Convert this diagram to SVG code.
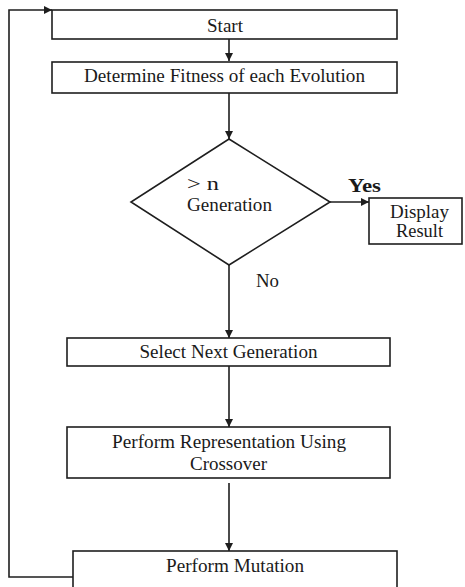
<svg xmlns="http://www.w3.org/2000/svg" width="465" height="587" viewBox="0 0 465 587">
  <style>
    .box { fill: #fff; stroke: #1e1e1e; stroke-width: 1.6; }
    .edge { fill: none; stroke: #1e1e1e; stroke-width: 1.6; }
    .lbl { font-family: "Liberation Serif", "Times New Roman", Times, serif; font-size: 18px; fill: #1a1a1a; }
    .mid { text-anchor: middle; }
    .bold { font-weight: bold; }
  </style>
  <defs>
    <marker id="arrow" viewBox="0 0 10 10" refX="10" refY="5" markerWidth="9" markerHeight="8" markerUnits="userSpaceOnUse" orient="auto">
      <path d="M0,0 L10,5 L0,10 Z" fill="#1e1e1e"/>
    </marker>
  </defs>
  <rect width="465" height="587" fill="#fff"/>

  <g id="connectors">
    <path class="edge" d="M73,577 H9 V10 H52" marker-end="url(#arrow)"/>
    <path class="edge" d="M229,39 V61" marker-end="url(#arrow)"/>
    <path class="edge" d="M229,93 V139" marker-end="url(#arrow)"/>
    <path class="edge" d="M330,202 H369" marker-end="url(#arrow)"/>
    <path class="edge" d="M229,265 V338" marker-end="url(#arrow)"/>
    <path class="edge" d="M229,366 V427" marker-end="url(#arrow)"/>
    <path class="edge" d="M229,483 V551" marker-end="url(#arrow)"/>
    <text class="lbl bold" x="348" y="192" textLength="33" lengthAdjust="spacingAndGlyphs">Yes</text>
    <text class="lbl" x="256" y="287" textLength="23" lengthAdjust="spacingAndGlyphs">No</text>
  </g>

  <g id="start">
    <rect class="box" x="52" y="10" width="345" height="29"/>
    <text class="lbl mid" x="225" y="31.5" textLength="36" lengthAdjust="spacingAndGlyphs">Start</text>
  </g>

  <g id="fitness">
    <rect class="box" x="52" y="62" width="345" height="31"/>
    <text class="lbl mid" x="224.5" y="82" textLength="281" lengthAdjust="spacingAndGlyphs">Determine Fitness of each Evolution</text>
  </g>

  <g id="decision">
    <polygon class="box" points="229,139 330,202 229,265 131,202"/>
    <text class="lbl" x="187" y="190" textLength="32" lengthAdjust="spacingAndGlyphs">&gt; n</text>
    <text class="lbl" x="187" y="211" textLength="85" lengthAdjust="spacingAndGlyphs">Generation</text>
  </g>

  <g id="display">
    <rect class="box" x="369" y="198" width="93" height="46"/>
    <text class="lbl mid" x="419.5" y="218" textLength="59" lengthAdjust="spacingAndGlyphs">Display</text>
    <text class="lbl mid" x="419.5" y="237" textLength="47" lengthAdjust="spacingAndGlyphs">Result</text>
  </g>

  <g id="select">
    <rect class="box" x="67" y="338" width="323" height="28"/>
    <text class="lbl mid" x="228.5" y="358" textLength="178" lengthAdjust="spacingAndGlyphs">Select Next Generation</text>
  </g>

  <g id="crossover">
    <rect class="box" x="67" y="427" width="323" height="51"/>
    <text class="lbl mid" x="229" y="448" textLength="234" lengthAdjust="spacingAndGlyphs">Perform Representation Using</text>
    <text class="lbl mid" x="228.5" y="470" textLength="77" lengthAdjust="spacingAndGlyphs">Crossover</text>
  </g>

  <g id="mutation">
    <rect class="box" x="73" y="551" width="324" height="50"/>
    <text class="lbl mid" x="235" y="572" textLength="138" lengthAdjust="spacingAndGlyphs">Perform Mutation</text>
  </g>
</svg>
